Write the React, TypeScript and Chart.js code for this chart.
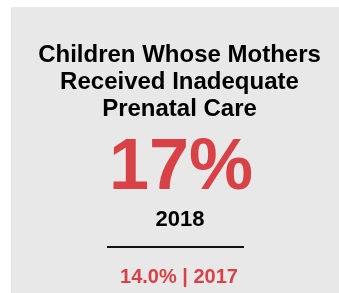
import React, { useEffect, useRef } from "react";
import { Chart, registerables } from "chart.js";

Chart.register(...registerables);

const titleLines = ["Children Whose Mothers", "Received Inadequate", "Prenatal Care"];
const years = ["2018", "2017"];
const kpiValues = [17, 14.0];

const RED = "#d84246";
const BG = "#e8e8e8";
const FONT = '"Liberation Sans", Arial, Helvetica, sans-serif';

const kpiPlugin = {
  id: "kpiCard",
  beforeDraw(chart: any) {
    const ctx = chart.ctx;
    ctx.save();
    ctx.fillStyle = BG;
    ctx.fillRect(11, 7, chart.width - 11, chart.height - 7);
    ctx.restore();
  },
  afterDraw(chart: any) {
    const ctx = chart.ctx;
    const cx = 180;
    ctx.save();
    ctx.textAlign = "center";
    ctx.textBaseline = "alphabetic";
    ctx.fillStyle = RED;
    ctx.font = `bold 72px ${FONT}`;
    ctx.fillText(`${kpiValues[0]}%`, cx + 1, 189);
    ctx.fillStyle = "#000";
    ctx.font = `bold 22px ${FONT}`;
    ctx.fillText(years[0], cx, 226);
    ctx.fillStyle = "#111";
    ctx.fillRect(107, 246, 137, 2);
    ctx.fillStyle = RED;
    ctx.font = `bold 20px ${FONT}`;
    ctx.fillText(`${kpiValues[1].toFixed(1)}% | ${years[1]}`, cx - 1, 283);
    ctx.restore();
  },
};

export default function App() {
  const ref = useRef<HTMLCanvasElement>(null);
  useEffect(() => {
    if (!ref.current) return;
    const chart = new Chart(ref.current, {
      type: "bar",
      data: { labels: [], datasets: [] },
      options: {
        animation: false,
        responsive: false,
        maintainAspectRatio: false,
        layout: { padding: { left: 20, right: 0, top: 0, bottom: 0 } },
        scales: { x: { display: false }, y: { display: false } },
        plugins: {
          legend: { display: false },
          tooltip: { enabled: false },
          title: {
            display: true,
            text: titleLines,
            color: "#000",
            align: "center",
            font: { family: FONT, size: 24, weight: "bold", lineHeight: 1.125 },
            padding: { top: 42, bottom: 0 },
          },
        },
      },
      plugins: [kpiPlugin],
    });
    return () => chart.destroy();
  }, []);
  return (
    <div style={{ position: "fixed", left: 0, top: 0, width: 339, height: 293 }}>
      <canvas ref={ref} width={339} height={293} style={{ display: "block", width: 339, height: 293 }} />
    </div>
  );
}
